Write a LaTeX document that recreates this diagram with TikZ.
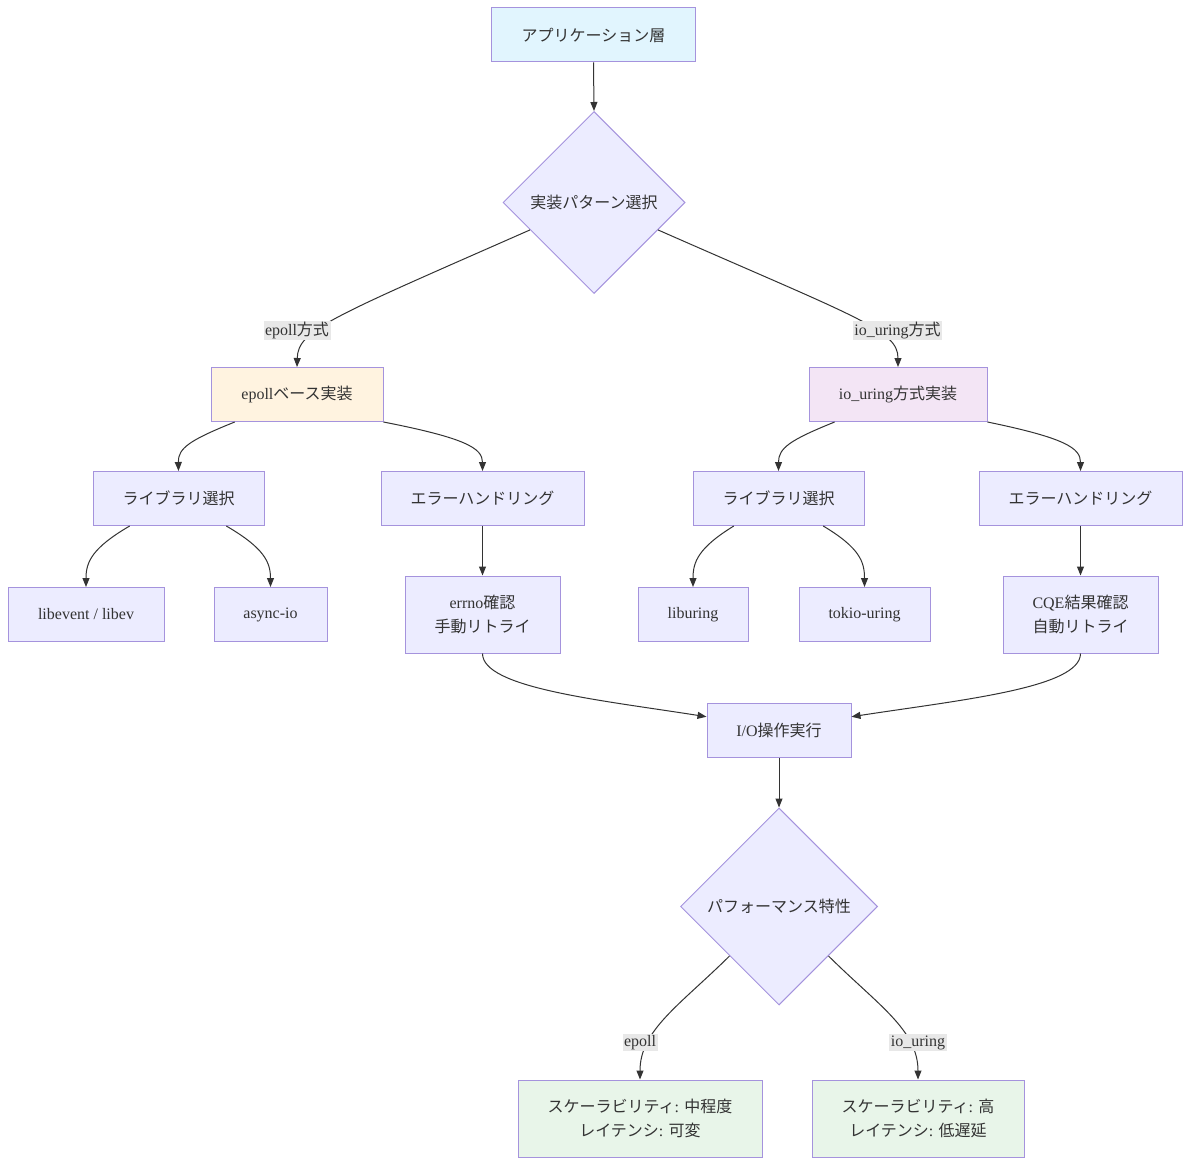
\documentclass[tikz,border=0pt]{standalone}
\usepackage{fontspec}
\setmainfont{Liberation Serif}
\newfontfamily\jpfont{Noto Sans CJK JP}
\newcommand\jpt[1]{{\jpfont #1}}
\usetikzlibrary{shapes.geometric,arrows.meta,calc}
\definecolor{nfill}{HTML}{ECECFF}
\definecolor{nstroke}{HTML}{A593DD}
\definecolor{txt}{HTML}{333333}
\definecolor{appfill}{HTML}{E1F5FE}
\definecolor{epfill}{HTML}{FFF3E0}
\definecolor{urfill}{HTML}{F3E5F5}
\definecolor{resfill}{HTML}{E8F5E9}
\definecolor{lblfill}{HTML}{E8E8E8}
\tikzset{
  box/.style={draw=nstroke, fill=nfill, line width=1pt, text=txt, align=center,
    inner sep=0pt, minimum height=54pt, font=\fontsize{16}{24}\selectfont},
  tall/.style={minimum height=77pt},
  dia/.style={draw=nstroke, fill=nfill, line width=1pt, text=txt, shape=diamond,
    aspect=1, inner sep=0pt, font=\fontsize{16}{24}\selectfont},
  elbl/.style={fill=lblfill, text=txt, inner sep=1.5pt, font=\fontsize{16}{20}\selectfont},
  edge/.style={draw=txt, line width=1pt, -{Triangle[length=9pt,width=7pt]}},
}
\begin{document}
\begin{tikzpicture}[x=1pt,y=-1pt]
\useasboundingbox[fill=white] (0,0) rectangle (1191,1166);
\node[box, fill=appfill, minimum width=204pt] (app) at (593.5,35) {\jpt{アプリケーション層}};
\node[dia, minimum width=182pt, minimum height=182pt] (d1) at (594,202.5) {\jpt{実装パターン選択}};
\node[box, fill=epfill, minimum width=172pt] (ep) at (297,394.5) {epoll\jpt{ベース実装}};
\node[box, fill=urfill, minimum width=178pt] (ur) at (898,394.5) {io\_uring\jpt{方式実装}};
\node[box, minimum width=171pt] (libL) at (178.5,498.5) {\jpt{ライブラリ選択}};
\node[box, minimum width=203pt] (errL) at (482.5,498.5) {\jpt{エラーハンドリング}};
\node[box, minimum width=171pt] (libR) at (778.5,498.5) {\jpt{ライブラリ選択}};
\node[box, minimum width=203pt] (errR) at (1080.5,498.5) {\jpt{エラーハンドリング}};
\node[box, minimum width=156pt] (libev) at (86,614.5) {libevent / libev};
\node[box, minimum width=113pt] (aio) at (270.5,614.5) {async-io};
\node[box, tall, minimum width=155pt] (errno) at (482.5,614.5) {errno\jpt{確認}\\\jpt{手動リトライ}};
\node[box, minimum width=110pt] (luring) at (693,614.5) {liburing};
\node[box, minimum width=131pt] (tokio) at (864.5,614.5) {tokio-uring};
\node[box, tall, minimum width=155pt] (cqe) at (1080.5,614.5) {CQE\jpt{結果確認}\\\jpt{自動リトライ}};
\node[box, minimum width=144pt] (io) at (779,730.5) {I/O\jpt{操作実行}};
\node[dia, minimum width=197pt, minimum height=197pt] (d2) at (779,906.5) {\jpt{パフォーマンス特性}};
\node[box, tall, fill=resfill, minimum width=244pt] (resL) at (640,1118.5) {\jpt{スケーラビリティ}: \jpt{中程度}\\\jpt{レイテンシ}: \jpt{可変}};
\node[box, tall, fill=resfill, minimum width=212pt] (resR) at (918,1118.5) {\jpt{スケーラビリティ}: \jpt{高}\\\jpt{レイテンシ}: \jpt{低遅延}};

% edges
\draw[edge] (app.south) -- (d1.north);
\draw[edge] ($(d1.west)!0.3!(d1.south)$) .. controls (330,318) and (298,330) .. (ep.north);
\draw[edge] ($(d1.east)!0.3!(d1.south)$) .. controls (858,318) and (898,330) .. (ur.north);
\draw[edge] ($(ep.south west)!0.14!(ep.south east)$) .. controls (190,440) and (178,448) .. (libL.north);
\draw[edge] (ep.south east) .. controls (465,438) and (482.5,448) .. (errL.north);
\draw[edge] ($(ur.south west)!0.146!(ur.south east)$) .. controls (790,440) and (778.5,448) .. (libR.north);
\draw[edge] (ur.south east) .. controls (1065,438) and (1080.5,448) .. (errR.north);
\draw[edge] ($(libL.south west)!0.216!(libL.south east)$) .. controls (92,548) and (86,562) .. (libev.north);
\draw[edge] ($(libL.south west)!0.778!(libL.south east)$) .. controls (264,548) and (270.5,562) .. (aio.north);
\draw[edge] (errL.south) -- (errno.north);
\draw[edge] ($(libR.south west)!0.24!(libR.south east)$) .. controls (698,548) and (693,562) .. (luring.north);
\draw[edge] ($(libR.south west)!0.76!(libR.south east)$) .. controls (860,548) and (864.5,562) .. (tokio.north);
\draw[edge] (errR.south) -- (cqe.north);
\draw[edge] (errno.south) .. controls (482.5,688) and (600,700) .. ($(io.north west)!0.25!(io.south west)$);
\draw[edge] (cqe.south) .. controls (1080.5,688) and (960,700) .. ($(io.north east)!0.25!(io.south east)$);
\draw[edge] (io.south) -- (d2.north);
\draw[edge] ($(d2.west)!0.5!(d2.south)$) .. controls (680,1005) and (640,1030) .. (resL.north);
\draw[edge] ($(d2.east)!0.5!(d2.south)$) .. controls (878,1005) and (918,1030) .. (resR.north);

% edge labels
\node[elbl] (l1) at (297,330.5) {epoll\jpt{方式}};
\node[elbl] (l2) at (897.5,330.5) {io\_uring\jpt{方式}};
\node[elbl] (l3) at (640,1042.5) {epoll};
\node[elbl] (l4) at (918,1042.5) {io\_uring};
\end{tikzpicture}
\end{document}
